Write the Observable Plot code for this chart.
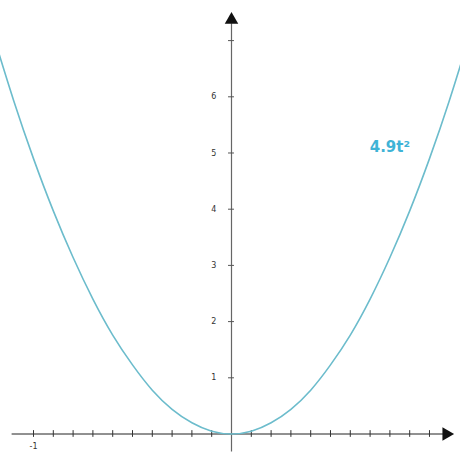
<!DOCTYPE html>
<html>
<head>
<meta charset="utf-8">
<script src="https://cdn.jsdelivr.net/npm/d3@7"></script>
<script src="https://cdn.jsdelivr.net/npm/@observablehq/plot@0.6"></script>
<style>
  body { margin: 0; background: #fff; }
</style>
</head>
<body>
<div id="Chart"></div>
<script>
var tVals = [-1.2, -1.1, -1.0, -0.9, -0.8, -0.7, -0.6, -0.5, -0.4, -0.3, -0.2, -0.1, 0,
             0.1, 0.2, 0.3, 0.4, 0.5, 0.6, 0.7, 0.8, 0.9, 1.0, 1.1, 1.2];
var yVals = [7.06, 5.93, 4.9, 3.97, 3.14, 2.4, 1.76, 1.23, 0.78, 0.44, 0.2, 0.05, 0,
             0.05, 0.2, 0.44, 0.78, 1.23, 1.76, 2.4, 3.14, 3.97, 4.9, 5.93, 7.06];
var xTicks = [-1, -0.9, -0.8, -0.7, -0.6, -0.5, -0.4, -0.3, -0.2, -0.1,
              0.1, 0.2, 0.3, 0.4, 0.5, 0.6, 0.7, 0.8, 0.9, 1.0];
var xLabels = [{ t: -1, text: "-1" }];
var yTicks = [1, 2, 3, 4, 5, 6, 7];
var yLabels = [1, 2, 3, 4, 5, 6];
var curveLabel = "4.9t²";

var curve = tVals.map((t, i) => ({ t: t, y: yVals[i] }));

var options = {
  width: 460,
  height: 460,
  margin: 0,
  style: { background: "white", fontFamily: "DejaVu Sans" },
  x: { domain: [-1.1667, 1.1566], axis: null },
  y: { domain: [-0.4715, 7.7135], axis: null },
  marks: [
    // axes
    Plot.ruleY([0], { x1: -1.108, x2: 1.075, stroke: "#222", strokeWidth: 1 }),
    Plot.ruleX([0], { y1: -0.32, y2: 7.3, stroke: "#666", strokeWidth: 1.2 }),
    // arrow heads
    Plot.dot([{ t: 1.085, y: 0 }], { x: "t", y: "y", symbol: "triangle", r: 5, fill: "#111", stroke: "none", rotate: 90 }),
    Plot.dot([{ t: 0, y: 7.37 }], { x: "t", y: "y", symbol: "triangle", r: 5, fill: "#111", stroke: "none" }),
    // ticks
    Plot.ruleX(xTicks, { y1: -0.06, y2: 0.06, stroke: "#333", strokeWidth: 1 }),
    Plot.ruleY(yTicks, { x1: -0.015, x2: 0.015, stroke: "#555", strokeWidth: 1 }),
    // tick labels
    Plot.text(xLabels, { x: "t", y: () => -0.23, text: "text", fontSize: 8, fill: "#333" }),
    Plot.text(yLabels, { x: () => -0.09, y: d => d, text: d => String(d), fontSize: 8, fill: "#333" }),
    // the curve
    Plot.line(curve, { x: "t", y: "y", curve: "natural", stroke: "#6cbccc", strokeWidth: 1.6 }),
    Plot.text([curveLabel], { x: () => 0.8, y: () => 5.1, text: d => d, fontSize: 15, fontWeight: "bold", fill: "#3fb3d6" })
  ]
};

document.getElementById("Chart").append(Plot.plot(options));
</script>
</body>
</html>
